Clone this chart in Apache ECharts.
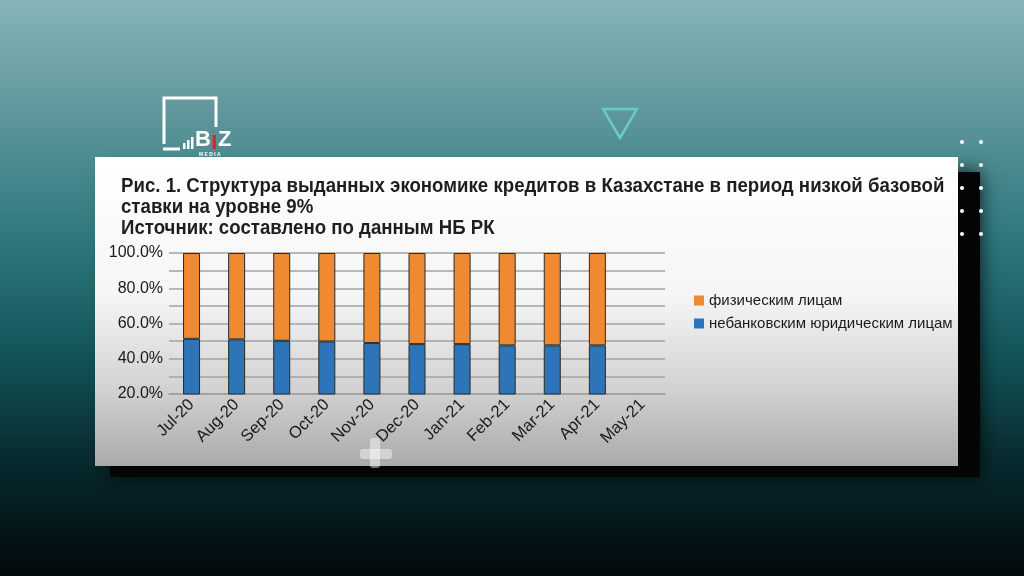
<!DOCTYPE html>
<html>
<head>
<meta charset="utf-8">
<script src="https://cdn.jsdelivr.net/npm/echarts@6/dist/echarts.min.js"></script>
<style>
html,body{margin:0;padding:0;background:#0b2f33;}
#c{width:1024px;height:576px;}
</style>
</head>
<body>
<div id="c"></div>
<script>
const categories = ['Jul-20','Aug-20','Sep-20','Oct-20','Nov-20','Dec-20','Jan-21','Feb-21','Mar-21','Apr-21','May-21'];
const nonBankLegal = [51.3, 51.0, 50.2, 49.8, 48.9, 48.3, 48.3, 47.6, 47.6, 47.6, null];
const individuals = [48.7, 49.0, 49.8, 50.2, 51.1, 51.7, 51.7, 52.4, 52.4, 52.4, null];
const seriesNames = ['физическим лицам', 'небанковским юридическим лицам'];
const titleLines = [
  'Рис. 1. Структура выданных экономике кредитов в Казахстане в период низкой базовой',
  'ставки на уровне 9%',
  'Источник: составлено по данным НБ РК'
];

const chart = echarts.init(document.getElementById('c'), null, {renderer:'canvas'});
const FONT = '"Liberation Sans", Arial, sans-serif';

const dots = [];
[142,165,188,211,234].forEach(y => {
  [962,981].forEach(x => dots.push({type:'circle', z:-5, shape:{cx:x, cy:y, r:2}, style:{fill:'#ffffff'}}));
});

const graphics = [
  {type:'rect', z:-20, shape:{x:0,y:0,width:1024,height:576},
   style:{fill:new echarts.graphic.LinearGradient(0,0,0,1,[
     {offset:0,color:'#86b4b8'},{offset:0.18,color:'#62999e'},{offset:0.42,color:'#2c777c'},
     {offset:0.62,color:'#135358'},{offset:0.8,color:'#072a2e'},{offset:1,color:'#02080a'}])}},
  // shadow behind card
  {type:'rect', z:-12, shape:{x:110,y:172,width:870,height:305},
   style:{fill:'#050505', shadowBlur:18, shadowColor:'rgba(0,0,0,0.8)'}},
  // card
  {type:'rect', z:-10, shape:{x:95,y:157,width:863,height:309},
   style:{fill:new echarts.graphic.LinearGradient(0,0,0,1,[
     {offset:0,color:'#ffffff'},{offset:0.45,color:'#f5f5f5'},{offset:0.75,color:'#d2d2d2'},{offset:1,color:'#aaaaaa'}])}},
  // faint plus on card
  {type:'rect', z:-9, shape:{x:370,y:438,width:10,height:30,r:3}, style:{fill:'rgba(255,255,255,0.45)'}},
  {type:'rect', z:-9, shape:{x:360,y:449,width:32,height:10,r:3}, style:{fill:'rgba(255,255,255,0.45)'}},
  // triangle
  {type:'polygon', z:-5, shape:{points:[[603,109],[637,109],[620,138]]},
   style:{fill:'none', stroke:'#6ccac6', lineWidth:2.5}},
  // logo
  {type:'polyline', z:-5, shape:{points:[[164,144],[164,98],[216,98],[216,127]]},
   style:{stroke:'#ffffff', lineWidth:3, fill:'none'}},
  {type:'line', z:-5, shape:{x1:163,y1:149,x2:180,y2:149}, style:{stroke:'#ffffff', lineWidth:3}},
  {type:'rect', z:-5, shape:{x:183,y:143,width:2.5,height:6}, style:{fill:'#ffffff'}},
  {type:'rect', z:-5, shape:{x:187,y:140,width:2.5,height:9}, style:{fill:'#ffffff'}},
  {type:'rect', z:-5, shape:{x:191,y:137,width:2.5,height:12}, style:{fill:'#ffffff'}},
  {type:'text', z:-5, style:{x:195,y:151,text:'B',fill:'#ffffff',font:'bold 22px '+FONT,textVerticalAlign:'bottom'}},
  {type:'rect', z:-5, shape:{x:212.5,y:135,width:3.5,height:14}, style:{fill:'#e0262b'}},
  {type:'text', z:-5, style:{x:218,y:151,text:'Z',fill:'#ffffff',font:'bold 22px '+FONT,textVerticalAlign:'bottom'}},
  {type:'text', z:-5, style:{x:199,y:152,text:'M E D I A',fill:'#ffffff',font:'bold 5px '+FONT,textVerticalAlign:'top'}},
  ...dots
];

titleLines.forEach((t,i) => {
  graphics.push({type:'text', z:10, x:121, y:[186.5,207.5,228.5][i], scaleX:0.888, scaleY:1,
    style:{x:0,y:0,text:t,fill:'#1e1e1e',font:'bold 21px '+FONT,textVerticalAlign:'middle'}});
});

chart.setOption({
  animation:false,
  graphic:{elements:graphics},
  legend:{
    orient:'vertical', left:689, top:288, itemWidth:10, itemHeight:10, itemGap:8,
    icon:'rect',
    data:seriesNames,
    itemStyle:{borderWidth:0},
    textStyle:{fontFamily:FONT, fontSize:15, color:'#1a1a1a'}
  },
  grid:{left:169, right:359, top:253, bottom:182, containLabel:false},
  xAxis:{
    type:'category', data:categories,
    axisLine:{lineStyle:{color:'#a0a0a0', width:1.5}},
    axisTick:{show:false},
    axisLabel:{rotate:45, fontFamily:FONT, fontSize:16.5, color:'#1a1a1a', margin:8, interval:0}
  },
  yAxis:{
    type:'value', min:20, max:100, interval:10,
    axisLine:{show:false}, axisTick:{show:false},
    splitLine:{lineStyle:{color:'#a3a3a3', width:1.5}},
    axisLabel:{fontFamily:FONT, fontSize:16, color:'#1a1a1a', margin:6,
      formatter:v => (v % 20 === 0) ? v.toFixed(1)+'%' : ''}
  },
  series:[
    {name:seriesNames[1], type:'bar', stack:'s', data:nonBankLegal, barWidth:17,
     itemStyle:{color:'#2d74b8', borderColor:'#2a2a2a', borderWidth:1}},
    {name:seriesNames[0], type:'bar', stack:'s', data:individuals, barWidth:17,
     itemStyle:{color:'#ef8a30', borderColor:'#2a2a2a', borderWidth:1}}
  ]
});
</script>
</body>
</html>
